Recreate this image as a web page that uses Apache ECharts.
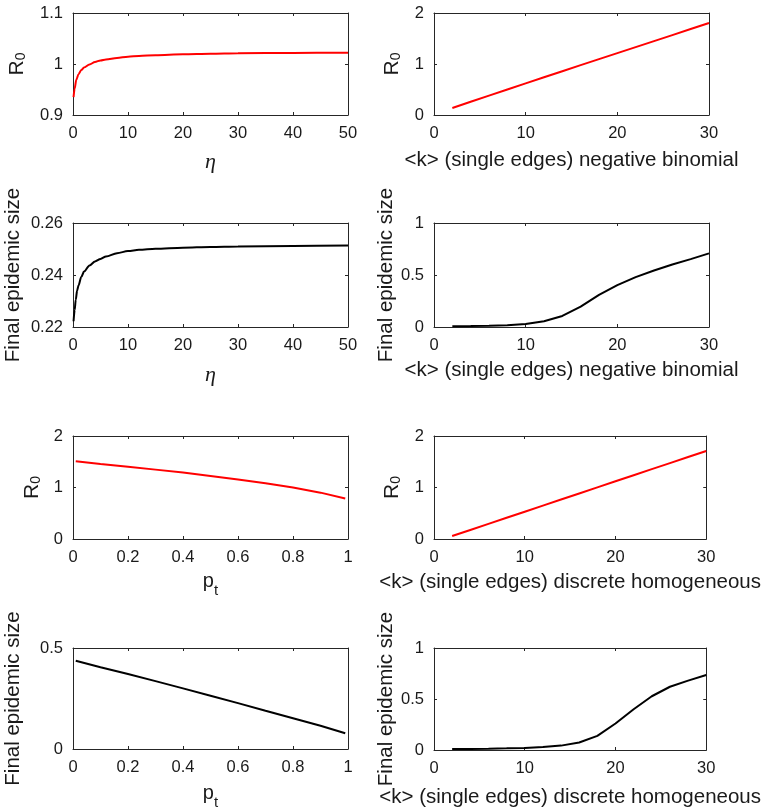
<!DOCTYPE html>
<html>
<head>
<meta charset="utf-8">
<script src="https://cdn.jsdelivr.net/npm/echarts@6/dist/echarts.min.js"></script>
<style>
html,body{margin:0;padding:0;background:#fff;}
#chart{width:763px;height:811px;}
</style>
</head>
<body>
<div id="chart"></div>
<script>
// ---- data ----
const etaA = [0.1, 0.3, 0.6, 1, 1.5, 2, 3, 4, 5, 6, 8, 10, 12, 15, 20, 25, 30, 40, 50];
const r0Eta = [0.935, 0.952, 0.969, 0.980, 0.988, 0.993, 0.999, 1.004, 1.007, 1.009, 1.012, 1.0143, 1.0157, 1.0173, 1.019, 1.0201, 1.021, 1.0217, 1.0222];

const etaB = [0.1, 0.3, 0.5, 0.75, 1, 1.5, 2, 3, 4, 5, 6, 8, 10, 12, 15, 20, 25, 30, 40, 50];
const sizeEta = [0.2222, 0.2265, 0.2305, 0.2340, 0.2360, 0.2392, 0.2413, 0.2437, 0.2452, 0.2462, 0.2471, 0.2484, 0.2492, 0.2497, 0.2501, 0.2505, 0.2508, 0.2510, 0.2512, 0.2513];

const kVals = [2, 4, 6, 8, 10, 12, 14, 16, 18, 20, 22, 24, 26, 28, 30];
const r0NegBin = [0.137, 0.259, 0.380, 0.500, 0.620, 0.739, 0.858, 0.977, 1.095, 1.213, 1.331, 1.449, 1.567, 1.685, 1.803];
const sizeNegBin = [0.008, 0.010, 0.013, 0.018, 0.028, 0.055, 0.106, 0.196, 0.309, 0.402, 0.479, 0.543, 0.601, 0.653, 0.708];
const r0Homog = [0.058, 0.176, 0.294, 0.412, 0.530, 0.648, 0.766, 0.884, 1.002, 1.120, 1.238, 1.356, 1.474, 1.592, 1.710];
const sizeHomog = [0.010, 0.011, 0.013, 0.016, 0.020, 0.030, 0.043, 0.073, 0.139, 0.260, 0.400, 0.527, 0.620, 0.680, 0.735];

const ptVals = [0.01, 0.1, 0.2, 0.3, 0.4, 0.5, 0.6, 0.7, 0.8, 0.9, 0.99];
const r0Pt = [1.51, 1.457, 1.402, 1.347, 1.289, 1.225, 1.157, 1.082, 0.998, 0.900, 0.787];
const sizePt = [0.437, 0.405, 0.371, 0.336, 0.300, 0.264, 0.227, 0.189, 0.152, 0.115, 0.078];

const xTitleEta = 'η';
const xTitleNB = '<k> (single edges) negative binomial';
const xTitleDH = '<k> (single edges) discrete homogeneous';
const xTitlePt = '{p|p}{s|t}';
const yTitleR0 = '{r|R}{s|0}';
const yTitleSize = 'Final epidemic size';

// ---- layout ----
const FONT = '"Liberation Sans", Arial, Helvetica, sans-serif';
const TXT = '#1a1a1a';
const AX = '#262626';

const panels = [
  {pos:[73,13,275,102],  x:etaA,  y:r0Eta,     col:'#ff0000', xr:[0,50,10], yr:[0.9,1.1,0.1],  xn:xTitleEta, xg:36, yn:yTitleR0,   yg:45, smooth:true},
  {pos:[434,13,275,102], x:kVals, y:r0NegBin,  col:'#ff0000', xr:[0,30,10], yr:[0,2,1],        xn:xTitleNB,  xg:35, yn:yTitleR0,   yg:31},
  {pos:[73,223,275,104], x:etaB,  y:sizeEta,   col:'#000000', xr:[0,50,10], yr:[0.22,0.26,0.02], xn:xTitleEta, xg:37, yn:yTitleSize, yg:50, smooth:true},
  {pos:[434,223,275,104],x:kVals, y:sizeNegBin,col:'#000000', xr:[0,30,10], yr:[0,1,0.5],      xn:xTitleNB,  xg:33, yn:yTitleSize, yg:35},
  {pos:[73,436,275,103], x:ptVals,y:r0Pt,      col:'#ff0000', xr:[0,1,0.2], yr:[0,2,1],        xn:xTitlePt,  xg:39, yn:yTitleR0,   yg:30},
  {pos:[434,436,275,103],x:kVals, y:r0Homog,   col:'#ff0000', xr:[0,30,10], yr:[0,2,1],        xn:xTitleDH,  xg:33, yn:yTitleR0,   yg:31},
  {pos:[73,648,275,102], x:ptVals,y:sizePt,    col:'#000000', xr:[0,1,0.2], yr:[0,0.5,0.5],    xn:xTitlePt,  xg:41, yn:yTitleSize, yg:50},
  {pos:[434,648,275,102],x:kVals, y:sizeHomog, col:'#000000', xr:[0,30,10], yr:[0,1,0.5],      xn:xTitleDH,  xg:37, yn:yTitleSize, yg:35}
];

function nameStyle(name) {
  if (name === xTitleEta) {
    return {fontFamily:'"Liberation Serif", "Times New Roman", serif', fontStyle:'italic', fontSize:22, color:TXT, lineHeight:22};
  }
  if (name === xTitlePt) {
    return {color:TXT, rich:{
      p:{fontFamily:FONT, fontSize:20, lineHeight:20, color:TXT, verticalAlign:'bottom', padding:[0,0,6.5,0]},
      s:{fontFamily:FONT, fontSize:15, lineHeight:15, color:TXT, verticalAlign:'bottom'}
    }};
  }
  if (name === yTitleR0) {
    return {color:TXT, rich:{
      r:{fontFamily:FONT, fontSize:21, lineHeight:22, color:TXT, verticalAlign:'bottom'},
      s:{fontFamily:FONT, fontSize:14, lineHeight:14, color:TXT, verticalAlign:'bottom'}
    }};
  }
  return {fontFamily:FONT, fontSize:20.5, lineHeight:20, color:TXT};
}

const grids = [], xAxes = [], yAxes = [], series = [];
panels.forEach((p, i) => {
  grids.push({left:p.pos[0], top:p.pos[1], width:p.pos[2], height:p.pos[3], containLabel:false});
  const tick = {show:true, inside:true, length:3, lineStyle:{color:AX, width:1}};
  const line = {show:true, onZero:false, lineStyle:{color:AX, width:1}};
  const lab = {show:true, fontFamily:FONT, fontSize:16.5, color:TXT, margin:10};
  // bottom x axis
  xAxes.push({type:'value', gridIndex:i, position:'bottom', min:p.xr[0], max:p.xr[1], interval:p.xr[2],
    axisLine:line, axisTick:tick, axisLabel:lab, splitLine:{show:false},
    name:p.xn, nameLocation:'middle', nameGap:p.xg, nameTextStyle:nameStyle(p.xn)});
  // top mirror x axis
  xAxes.push({type:'value', gridIndex:i, position:'top', min:p.xr[0], max:p.xr[1], interval:p.xr[2],
    axisLine:line, axisTick:tick, axisLabel:{show:false}, splitLine:{show:false}});
  // left y axis
  yAxes.push({type:'value', gridIndex:i, position:'left', min:p.yr[0], max:p.yr[1], interval:p.yr[2],
    axisLine:line, axisTick:tick, axisLabel:lab, splitLine:{show:false},
    name:p.yn, nameLocation:'middle', nameRotate:90, nameGap:p.yg, nameTextStyle:nameStyle(p.yn)});
  // right mirror y axis
  yAxes.push({type:'value', gridIndex:i, position:'right', min:p.yr[0], max:p.yr[1], interval:p.yr[2],
    axisLine:line, axisTick:tick, axisLabel:{show:false}, splitLine:{show:false}});
  series.push({type:'line', xAxisIndex:2*i, yAxisIndex:2*i, showSymbol:false, symbol:'none',
    smooth: p.smooth ? 0.3 : false, smoothMonotone:'x',
    lineStyle:{color:p.col, width:2}, itemStyle:{color:p.col},
    data:p.x.map((v, j) => [v, p.y[j]])});
});

const chart = echarts.init(document.getElementById('chart'), null, {renderer:'canvas'});
chart.setOption({
  animation:false,
  backgroundColor:'#ffffff',
  grid:grids, xAxis:xAxes, yAxis:yAxes, series:series
});
</script>
</body>
</html>
